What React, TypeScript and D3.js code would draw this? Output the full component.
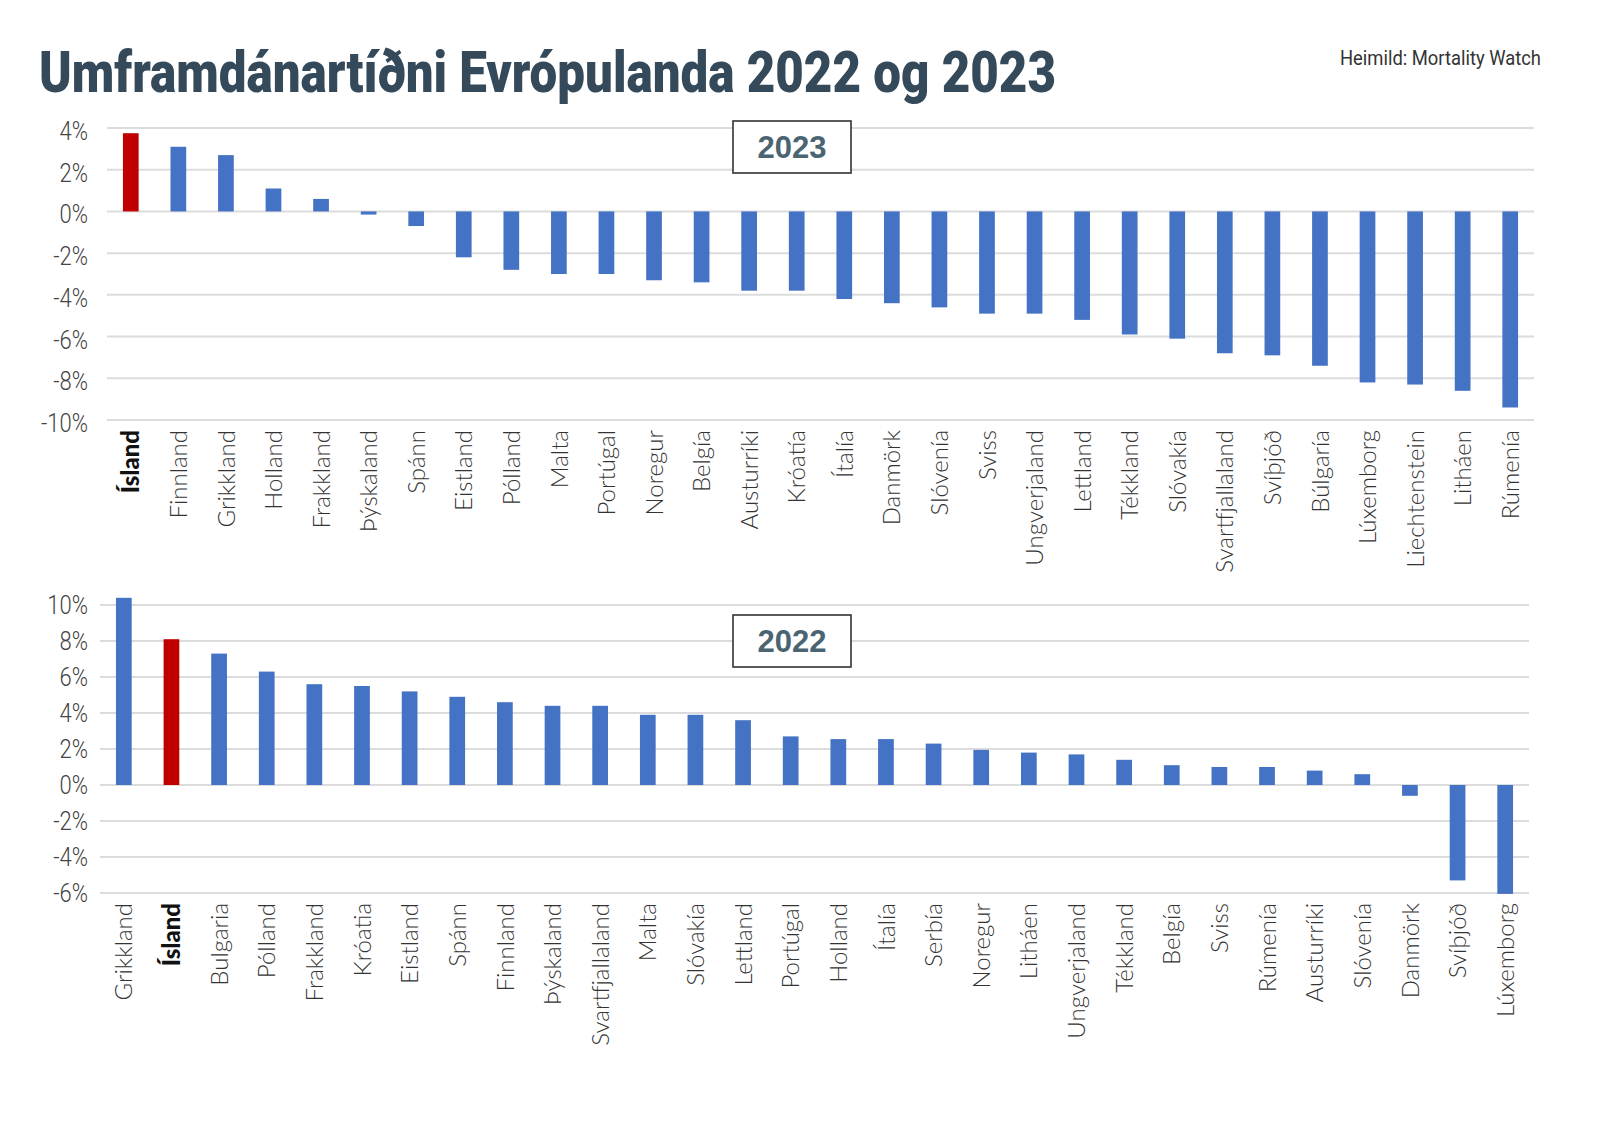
import React from "react";
import * as d3 from "d3";

const countries2023 = ["Ísland","Finnland","Grikkland","Holland","Frakkland","Þýskaland","Spánn","Eistland","Pólland","Malta","Portúgal","Noregur","Belgía","Austurríki","Króatía","Ítalía","Danmörk","Slóvenía","Sviss","Ungverjaland","Lettland","Tékkland","Slóvakía","Svartfjallaland","Svíþjóð","Búlgaría","Lúxemborg","Liechtenstein","Litháen","Rúmenía"];
const values2023 = [3.75,3.1,2.7,1.1,0.6,-0.15,-0.7,-2.2,-2.8,-3.0,-3.0,-3.3,-3.4,-3.8,-3.8,-4.2,-4.4,-4.6,-4.9,-4.9,-5.2,-5.9,-6.1,-6.8,-6.9,-7.4,-8.2,-8.3,-8.6,-9.4];

const countries2022 = ["Grikkland","Ísland","Bulgaria","Pólland","Frakkland","Króatia","Eistland","Spánn","Finnland","Þýskaland","Svartfjallaland","Malta","Slóvakía","Lettland","Portúgal","Holland","Ítalía","Serbía","Noregur","Litháen","Ungverjaland","Tékkland","Belgía","Sviss","Rúmenía","Austurríki","Slóvenía","Danmörk","Svíþjóð","Lúxemborg"];
const values2022 = [10.4,8.1,7.3,6.3,5.6,5.5,5.2,4.9,4.6,4.4,4.4,3.9,3.9,3.6,2.7,2.55,2.55,2.3,1.95,1.8,1.7,1.4,1.1,1.0,1.0,0.8,0.6,-0.6,-5.3,-6.05];

const ticks2023 = [4, 2, 0, -2, -4, -6, -8, -10];
const ticks2022 = [10, 8, 6, 4, 2, 0, -2, -4, -6];

const highlight = "Ísland";

type PanelProps = {
  names: string[];
  values: number[];
  ticks: number[];
  domain: [number, number];
  x0: number; x1: number; yTop: number; yBottom: number;
  year: string; boxY: number; labelShift: number;
};

function Panel({ names, values, ticks, domain, x0, x1, yTop, yBottom, year, boxY, labelShift }: PanelProps) {
  const x = d3.scaleBand<string>().domain(names).range([x0, x1]).paddingInner(0.67).paddingOuter(0.335);
  const y = d3.scaleLinear().domain(domain).range([yBottom, yTop]);
  return (
    <g>
      {ticks.map((t) => (
        <g key={t}>
          <line x1={x0} x2={x1} y1={y(t)} y2={y(t)} stroke="#dcdcdc" strokeWidth={2} />
          <text x={88} y={y(t) + labelShift} dy="0.36em" textAnchor="end" fontFamily="Roboto, sans-serif" fontWeight={300} fontSize={25} fill="#444" transform={`translate(${88 * 0.12},0) scale(0.88,1)`}>{t}%</text>
        </g>
      ))}
      {names.map((n, i) => {
        const v = values[i];
        const top = y(Math.max(0, v));
        const bot = y(Math.min(0, v));
        return (
          <rect key={n + i} x={x(n)} y={top} width={x.bandwidth()} height={Math.max(1.5, bot - top)} fill={n === highlight ? "#c00000" : "#4472c4"} />
        );
      })}
      {names.map((n, i) => {
        const cx = (x(n) as number) + x.bandwidth() / 2;
        return (
          <text key={"l" + n + i} transform={`translate(${cx},${yBottom + 10}) rotate(-90)`} dy="0.36em" textAnchor="end"
            fontFamily="Lato, 'Open Sans', sans-serif" fontSize={24} fontWeight={n === highlight ? 900 : 300} fill={n === highlight ? "#111" : "#333"}>{n}</text>
        );
      })}
      <rect x={733} y={boxY} width={118} height={52} fill="#fff" stroke="#333" strokeWidth={1.6} />
      <text x={792} y={boxY + 26} dy="0.36em" textAnchor="middle" fontFamily="'Liberation Sans', Arial, sans-serif" fontWeight={700} fontSize={31} fill="#4b6472">{year}</text>
    </g>
  );
}

export default function App() {
  return (
    <svg width={1600} height={1124} style={{ position: "absolute", left: 0, top: 0, background: "#fff" }}>
      <rect width={1600} height={1124} fill="#fff" />
      <text x={39} y={92} fontFamily="Roboto, sans-serif" fontWeight={900} fontSize={57} fill="#34495a" textLength={1017} lengthAdjust="spacingAndGlyphs">Umframdánartíðni Evrópulanda 2022 og 2023</text>
      <text x={1340} y={65} fontFamily="Roboto, sans-serif" fontSize={20} fill="#333" textLength={201} lengthAdjust="spacingAndGlyphs">Heimild: Mortality Watch</text>
      <Panel names={countries2023} values={values2023} ticks={ticks2023} domain={[-10, 4]} x0={107} x1={1534} yTop={128} yBottom={420} year="2023" boxY={121} labelShift={3} />
      <Panel names={countries2022} values={values2022} ticks={ticks2022} domain={[-6, 10]} x0={100} x1={1529} yTop={605} yBottom={893} year="2022" boxY={615} labelShift={0} />
    </svg>
  );
}
